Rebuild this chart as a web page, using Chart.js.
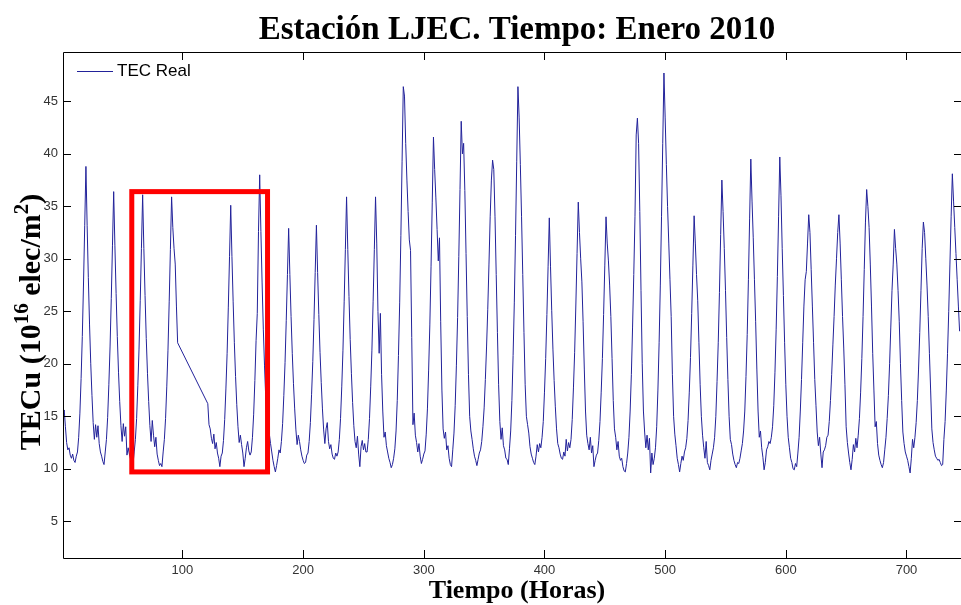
<!DOCTYPE html>
<html lang="es">
<head>
<meta charset="UTF-8">
<title>Estación LJEC - Enero 2010</title>
<script src="https://cdn.jsdelivr.net/npm/chart.js"></script>
<style>
  html, body { margin: 0; padding: 0; background: #fff; overflow: hidden; }
</style>
</head>
<body>
<canvas id="tecChart" width="970" height="605"></canvas>
<script>
// TEC vertical (10^16 elec/m^2), una lectura por hora, enero 2010
// null = horas sin datos (se unen con una recta, como en el original)
const tecReal = [
  // h1-20
  15.1, 15.6, 14.0, 12.5, 11.8, 12.0, 11.3, 11.0, 11.4, 10.8, 10.6, 11.2, 11.6, 13.0, 15.3, 18.6, 22.6, 27.6, 33.2, 38.8,
  // h21-43
  33.2, 28.2, 23.7, 20.0, 17.0, 14.4, 12.8, 14.2, 13.0, 14.1, 12.4, 11.6, 11.2, 10.7, 10.4, 11.6, 12.8, 14.9, 18.0, 21.6, 26.2, 31.3, 36.4,
  // h44-67
  31.3, 26.7, 22.6, 19.2, 16.4, 14.1, 12.6, 14.3, 13.1, 14.0, 11.3, 12.0, 11.4, 10.9, 10.6, 10.4, 11.6, 12.8, 14.8, 17.9, 21.4, 26.0, 31.0, 36.1,
  // h68-91
  31.0, 26.5, 22.4, 19.1, 16.4, 14.1, 12.6, 14.6, 13.2, 12.1, 13.0, 11.4, 10.8, 10.3, 10.5, 10.2, 11.6, 12.8, 14.8, 17.8, 21.3, 25.9, 30.9, 35.9,
  // h92-96
  33.0, 31.0, 29.5, 25.5, 22.0,
  // h97-120 sin datos
  null, null, null, null, null, null, null, null, null, null, null, null,
  null, null, null, null, null, null, null, null, null, null, null, null,
  // h121-140
  16.2, 14.2, 13.8, 12.9, 12.4, 13.3, 11.9, 12.5, 11.5, 11.0, 10.2, 11.2, 11.5, 12.7, 14.7, 17.6, 21.0, 25.4, 30.2, 35.1,
  // h141-164
  30.2, 25.9, 22.0, 18.8, 16.1, 14.0, 12.5, 13.2, 12.3, 11.5, 10.2, 11.0, 12.0, 12.6, 11.7, 11.3, 11.6, 13.0, 15.2, 18.4, 22.2, 24.8, 32.6, 38.0,
  // h165-188
  32.6, 27.7, 23.3, 19.8, 16.8, 14.3, 12.7, 13.3, 12.4, 11.6, 10.8, 10.2, 9.7, 10.3, 11.0, 11.8, 11.5, 12.6, 14.3, 17.0, 20.1, 24.1, 28.5, 32.9,
  // h189-211
  28.5, 24.5, 21.0, 18.1, 15.7, 13.7, 12.3, 13.2, 12.6, 11.8, 11.2, 10.8, 10.5, 10.6, 11.3, 11.5, 12.6, 14.4, 17.1, 20.2, 24.2, 28.7, 33.2,
  // h212-236
  28.7, 24.7, 21.1, 18.2, 15.7, 13.7, 12.4, 13.8, 14.4, 12.6, 11.9, 12.3, 11.4, 11.0, 10.9, 11.5, 11.2, 11.6, 12.8, 14.8, 17.8, 21.3, 25.9, 30.9, 35.9,
  // h237-260
  30.9, 26.4, 22.3, 19.1, 16.3, 14.1, 12.6, 12.0, 13.1, 11.4, 10.2, 12.1, 12.7, 11.8, 12.4, 11.6, 11.6, 12.8, 14.8, 17.8, 21.3, 25.9, 30.9, 35.9,
  // h261-283
  31.5, 25.0, 21.0, 24.8, 19.0, 15.5, 13.0, 13.5, 12.2, 11.6, 11.0, 10.6, 10.1, 10.4, 11.0, 11.9, 13.6, 16.5, 20.8, 25.8, 32.2, 39.3, 46.4,
  // h284-308
  45.5, 41.0, 37.5, 34.5, 31.8, 30.8, 22.5, 14.2, 15.3, 13.2, 12.5, 11.6, 12.4, 11.2, 10.5, 10.9, 11.4, 11.7, 13.3, 15.7, 19.4, 23.7, 29.3, 35.4, 41.6,
  // h309-331
  38.5, 35.8, 32.8, 29.8, 32.0, 24.0, 17.5, 13.8, 12.9, 13.5, 11.8, 12.2, 11.0, 10.4, 10.2, 11.8, 13.4, 16.0, 19.8, 24.4, 30.2, 36.6, 43.1,
  // h332-357
  40.0, 41.0, 36.5, 30.5, 24.5, 19.0, 15.0, 13.6, 12.8, 11.9, 11.2, 10.8, 10.3, 10.9, 11.5, 11.8, 12.6, 14.0, 15.8, 18.5, 21.6, 25.2, 29.5, 34.0, 37.5, 39.4,
  // h358-378
  38.5, 34.0, 28.5, 23.0, 18.0, 14.5, 12.8, 13.9, 12.2, 11.8, 11.0, 10.9, 10.4, 11.9, 13.6, 16.5, 20.8, 25.8, 32.2, 39.3, 46.4,
  // h379-404
  43.5, 39.0, 34.0, 28.5, 23.0, 18.0, 15.0, 14.2, 13.4, 12.1, 11.4, 11.0, 10.6, 10.4, 11.2, 12.3, 11.6, 12.4, 12.0, 13.0, 14.5, 17.3, 20.5, 24.7, 29.3, 33.9,
  // h405-428
  29.3, 25.1, 21.4, 18.4, 15.9, 13.8, 12.4, 12.0, 11.4, 11.0, 10.9, 11.6, 11.2, 12.8, 11.7, 12.5, 12.0, 12.8, 14.7, 17.7, 21.1, 25.6, 30.5, 35.4,
  // h429-451
  32.5, 30.0, 27.8, 24.0, 19.5, 15.5, 13.2, 12.4, 11.8, 13.0, 11.5, 12.2, 10.2, 10.8, 11.3, 11.5, 12.7, 14.5, 17.3, 20.5, 24.7, 29.4, 34.0,
  // h452-477
  31.5, 29.8, 27.5, 24.5, 20.5, 16.5, 13.8, 13.0, 11.8, 12.6, 11.2, 10.8, 11.0, 10.2, 9.8, 9.7, 10.5, 11.5, 13.0, 15.5, 19.0, 23.5, 28.5, 34.0, 41.8, 43.4,
  // h478-499
  41.0, 34.5, 27.0, 20.0, 15.5, 13.5, 12.0, 13.2, 11.8, 12.9, 9.6, 11.5, 10.4, 11.0, 12.0, 14.0, 17.5, 22.0, 27.5, 34.0, 41.0, 47.7,
  // h500-524
  43.5, 39.0, 35.0, 31.5, 28.0, 24.5, 19.0, 15.0, 13.3, 12.2, 11.0, 10.4, 9.7, 10.5, 11.2, 10.8, 11.6, 12.0, 12.9, 14.6, 17.3, 20.6, 24.8, 29.4, 34.1,
  // h525-547
  31.5, 28.5, 26.0, 22.0, 18.0, 15.0, 13.2, 12.0, 11.0, 12.6, 10.6, 10.3, 9.9, 10.8, 11.4, 12.0, 13.0, 15.0, 18.3, 22.0, 26.8, 32.3, 37.5,
  // h548-571
  34.5, 31.0, 27.0, 22.5, 18.5, 15.0, 12.8, 12.3, 11.4, 10.8, 10.4, 10.1, 10.6, 10.5, 11.0, 11.7, 12.4, 13.6, 15.5, 18.8, 22.8, 28.0, 33.8, 39.5,
  // h572-595
  35.5, 32.0, 28.0, 24.0, 19.5, 15.5, 13.0, 13.6, 12.0, 11.1, 9.9, 10.6, 11.8, 12.1, 12.6, 12.4, 13.0, 14.0, 16.0, 19.2, 23.3, 28.3, 34.0, 39.7,
  // h596-619
  36.0, 31.0, 26.5, 22.0, 18.0, 15.0, 13.0, 12.0, 11.0, 10.6, 10.0, 9.9, 10.5, 10.2, 11.5, 13.0, 15.5, 18.5, 22.0, 25.5, 28.0, 28.8, 31.5, 34.2,
  // h620-644
  32.5, 29.0, 25.5, 22.0, 18.5, 16.0, 13.5, 12.2, 13.0, 11.4, 10.1, 11.6, 11.8, 12.2, 13.0, 13.2, 14.5, 16.5, 19.0, 21.8, 24.5, 27.5, 30.0, 32.5, 34.2,
  // h645-667
  31.5, 28.0, 24.5, 21.5, 18.0, 14.0, 12.5, 11.5, 10.6, 9.9, 10.9, 12.3, 11.6, 12.9, 12.0, 13.2, 14.8, 17.3, 20.5, 24.5, 29.0, 33.5, 36.6,
  // h668-690
  35.0, 33.0, 29.5, 25.5, 21.0, 17.5, 14.0, 14.5, 12.4, 11.3, 10.8, 10.4, 10.1, 10.6, 11.8, 13.0, 14.8, 17.0, 20.0, 23.5, 27.0, 29.5, 32.8,
  // h691-714
  31.0, 29.5, 27.0, 24.0, 20.0, 16.5, 13.5, 12.4, 11.6, 11.2, 10.8, 10.2, 9.6, 11.0, 12.8, 12.0, 13.0, 14.4, 16.5, 19.5, 23.0, 27.0, 31.0, 33.5,
  // h715-738
  32.5, 30.0, 27.5, 24.5, 21.0, 17.5, 13.8, 12.5, 11.8, 11.2, 11.0, 10.8, 10.9, 10.6, 10.3, 10.4, 12.8, 14.5, 17.5, 21.0, 25.0, 29.5, 34.0, 38.1,
  // h739-744
  35.5, 33.0, 30.5, 28.0, 25.5, 23.1
];
const horas = tecReal.map((_, i) => i + 1);

const ticksX = [100, 200, 300, 400, 500, 600, 700];
const ticksY = [5, 10, 15, 20, 25, 30, 35, 40, 45];
const rangoX = [1, 746];
const rangoY = [1.5, 49.7];

// recuadro rojo sobre los días 3 a 7 (en horas y TEC)
const recuadroHoras = [58, 170.5];
const recuadroTEC = [9.7, 36.4];

const colorLinea = '#22229a';
const serif = '"Liberation Serif", "Times New Roman", serif';
const sans = '"Liberation Sans", Arial, sans-serif';

// marco estilo MATLAB: caja, marcas hacia dentro, leyenda, textos y recuadro
const marcoMatlab = {
    id: 'marcoMatlab',
    afterDatasetsDraw(chart) {
        const { ctx, scales: { x, y } } = chart;
        const x0 = x.getPixelForValue(recuadroHoras[0]);
        const x1 = x.getPixelForValue(recuadroHoras[1]);
        const y0 = y.getPixelForValue(recuadroTEC[0]);
        const y1 = y.getPixelForValue(recuadroTEC[1]);
        ctx.save();
        ctx.strokeStyle = '#ff0000';
        ctx.lineWidth = 5;
        ctx.strokeRect(x0, y1, x1 - x0, y0 - y1);
        ctx.restore();
    },
    afterDraw(chart) {
        const { ctx, chartArea: a, scales: { x, y } } = chart;
        ctx.save();
        ctx.strokeStyle = '#000';
        ctx.lineWidth = 1;
        ctx.beginPath();
        ctx.rect(a.left + 0.5, a.top + 0.5, a.right - a.left, a.bottom - a.top);
        const largo = 8;
        ticksX.forEach(v => {
            const px = Math.round(x.getPixelForValue(v)) + 0.5;
            ctx.moveTo(px, a.bottom); ctx.lineTo(px, a.bottom - largo);
            ctx.moveTo(px, a.top); ctx.lineTo(px, a.top + largo);
        });
        ticksY.forEach(v => {
            const py = Math.round(y.getPixelForValue(v)) + 0.5;
            ctx.moveTo(a.left, py); ctx.lineTo(a.left + largo, py);
            ctx.moveTo(a.right, py); ctx.lineTo(a.right - largo, py);
        });
        ctx.stroke();

        // leyenda
        const ds = chart.data.datasets[0];
        ctx.strokeStyle = ds.borderColor;
        ctx.beginPath();
        ctx.moveTo(a.left + 14, 71.5);
        ctx.lineTo(a.left + 50, 71.5);
        ctx.stroke();
        ctx.fillStyle = '#000';
        ctx.font = '17px ' + sans;
        ctx.textAlign = 'left';
        ctx.textBaseline = 'middle';
        ctx.fillText(ds.label, a.left + 54, 71);

        ctx.textAlign = 'center';
        ctx.textBaseline = 'alphabetic';
        ctx.font = 'bold 33px ' + serif;
        ctx.fillText('Estación LJEC. Tiempo: Enero 2010', 517, 39);
        ctx.font = 'bold 26px ' + serif;
        ctx.fillText('Tiempo (Horas)', 517, 598);

        // etiqueta Y con superíndices
        const piezas = [
            ['TECu (10', 30, 0], ['16', 21, -12], [' elec/m', 30, 0], ['2', 21, -12], [')', 30, 0]
        ];
        let total = 0;
        piezas.forEach(p => { ctx.font = 'bold ' + p[1] + 'px ' + serif; total += ctx.measureText(p[0]).width; });
        ctx.translate(40, 322);
        ctx.rotate(-Math.PI / 2);
        ctx.textAlign = 'left';
        let cx = -total / 2;
        piezas.forEach(p => {
            ctx.font = 'bold ' + p[1] + 'px ' + serif;
            ctx.fillText(p[0], cx, p[2]);
            cx += ctx.measureText(p[0]).width;
        });
        ctx.restore();
    }
};

const ctx = document.getElementById('tecChart').getContext('2d');
new Chart(ctx, {
    type: 'line',
    data: {
        labels: horas,
        datasets: [{
            label: 'TEC Real',
            data: tecReal,
            borderColor: colorLinea,
            backgroundColor: colorLinea,
            borderWidth: 1,
            pointRadius: 0,
            tension: 0,
            spanGaps: true,
            fill: false
        }]
    },
    options: {
        responsive: false,
        animation: false,
        layout: { padding: { top: 52, right: 8, left: 0, bottom: 0 } },
        plugins: {
            legend: { display: false },
            title: { display: false },
            tooltip: { enabled: false }
        },
        scales: {
            x: {
                type: 'linear',
                min: rangoX[0],
                max: rangoX[1],
                grid: { display: false, drawTicks: false },
                border: { display: false },
                ticks: { padding: 5, color: '#333', autoSkip: false, maxRotation: 0, font: { family: sans, size: 13 } },
                afterBuildTicks: s => { s.ticks = ticksX.map(v => ({ value: v })); },
                afterFit: s => { s.height = 47; }
            },
            y: {
                min: rangoY[0],
                max: rangoY[1],
                grid: { display: false, drawTicks: false },
                border: { display: false },
                ticks: { padding: 5, color: '#333', font: { family: sans, size: 13 } },
                afterBuildTicks: s => { s.ticks = ticksY.map(v => ({ value: v })); },
                afterFit: s => { s.width = 63; }
            }
        }
    },
    plugins: [marcoMatlab]
});
</script>
</body>
</html>
